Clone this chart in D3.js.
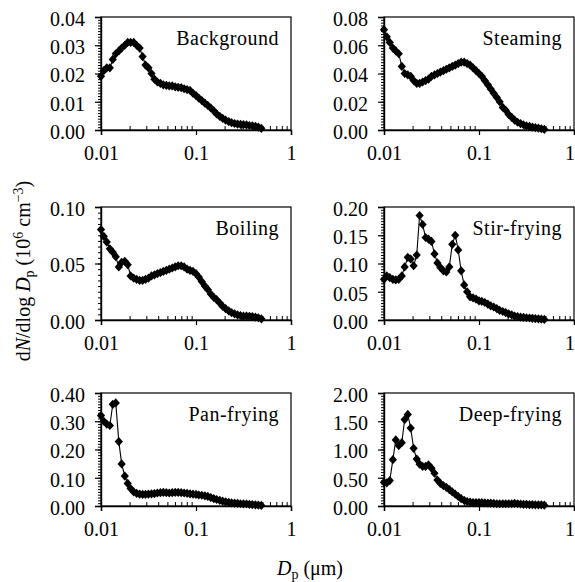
<!DOCTYPE html>
<html>
<head>
<meta charset="utf-8">
<script src="https://cdn.jsdelivr.net/npm/d3@7"></script>
<style>
  html, body { margin: 0; padding: 0; background: #fff; }
  svg { display: block; }
  text { font-family: "Liberation Serif", "Times New Roman", serif; fill: #000; }
</style>
</head>
<body>
<svg id="chart" width="575" height="582"></svg>
<script>
// ---- data ----
const diameters = [0.0100, 0.0107, 0.0115, 0.0124, 0.0133, 0.0143, 0.0154, 0.0165, 0.0178, 0.0191,
  0.0205, 0.0221, 0.0237, 0.0255, 0.0274, 0.0294, 0.0316, 0.0340, 0.0365, 0.0392,
  0.0422, 0.0453, 0.0487, 0.0523, 0.0562, 0.0604, 0.0649, 0.0698, 0.0750, 0.0806,
  0.0866, 0.0931, 0.100, 0.107, 0.115, 0.124, 0.133, 0.143, 0.154, 0.165,
  0.178, 0.191, 0.205, 0.221, 0.237, 0.255, 0.274, 0.294, 0.316, 0.340,
  0.365, 0.392, 0.422, 0.453, 0.487];

const background = [0.019, 0.021, 0.022, 0.022, 0.025, 0.027, 0.028, 0.029, 0.030, 0.031,
  0.031, 0.031, 0.030, 0.029, 0.026, 0.023, 0.022, 0.020, 0.018, 0.017,
  0.0165, 0.016, 0.0158, 0.0156, 0.0156, 0.0153, 0.0151, 0.015, 0.0146, 0.0143,
  0.014, 0.013, 0.0122, 0.0113, 0.0104, 0.0095, 0.0087, 0.0078, 0.0068, 0.0057,
  0.0048, 0.0041, 0.0035, 0.003, 0.0026, 0.0023, 0.0021, 0.002, 0.0019, 0.0018,
  0.0016, 0.0015, 0.0013, 0.001, 0.0006];

const steaming = [0.071, 0.066, 0.062, 0.058, 0.056, 0.054, 0.045, 0.040, 0.039, 0.038,
  0.035, 0.033, 0.033, 0.034, 0.035, 0.036, 0.038, 0.039, 0.040, 0.041,
  0.042, 0.043, 0.044, 0.045, 0.046, 0.047, 0.048, 0.048, 0.047, 0.046,
  0.044, 0.042, 0.040, 0.038, 0.035, 0.032, 0.029, 0.026, 0.023, 0.020,
  0.016, 0.014, 0.011, 0.009, 0.007, 0.0055, 0.0045, 0.0037, 0.003, 0.0025,
  0.002, 0.0017, 0.0013, 0.0009, 0.0005];

const boiling = [0.080, 0.074, 0.069, 0.063, 0.060, 0.056, 0.047, 0.051, 0.052, 0.049,
  0.039, 0.037, 0.036, 0.035, 0.035, 0.036, 0.037, 0.039, 0.040, 0.041,
  0.042, 0.043, 0.044, 0.045, 0.046, 0.047, 0.048, 0.048, 0.047, 0.045,
  0.044, 0.043, 0.041, 0.038, 0.034, 0.030, 0.027, 0.023, 0.020, 0.018,
  0.015, 0.012, 0.010, 0.008, 0.0065, 0.0055, 0.0045, 0.004, 0.0035, 0.0035,
  0.0033, 0.003, 0.0025, 0.002, 0.001];

const stirFrying = [0.072, 0.078, 0.075, 0.072, 0.071, 0.072, 0.078, 0.094, 0.111, 0.108,
  0.096, 0.115, 0.185, 0.169, 0.146, 0.143, 0.139, 0.117, 0.101, 0.093,
  0.087, 0.085, 0.094, 0.134, 0.150, 0.124, 0.087, 0.062, 0.050, 0.041,
  0.039, 0.037, 0.034, 0.033, 0.031, 0.028, 0.025, 0.023, 0.020, 0.017,
  0.015, 0.013, 0.011, 0.009, 0.007, 0.006, 0.005, 0.0045, 0.004, 0.0035,
  0.003, 0.0025, 0.002, 0.0015, 0.001];

const panFrying = [0.32, 0.30, 0.29, 0.285, 0.36, 0.365, 0.228, 0.149, 0.106, 0.080,
  0.062, 0.050, 0.045, 0.042, 0.041, 0.041, 0.042, 0.043, 0.044, 0.046,
  0.047, 0.048, 0.047, 0.046, 0.047, 0.048, 0.048, 0.047, 0.046, 0.045,
  0.043, 0.042, 0.041, 0.039, 0.038, 0.036, 0.034, 0.030, 0.026, 0.023,
  0.020, 0.017, 0.015, 0.013, 0.011, 0.010, 0.009, 0.008, 0.0075, 0.007,
  0.006, 0.005, 0.004, 0.003, 0.002];

const deepFrying = [0.42, 0.41, 0.45, 0.82, 1.17, 1.07, 1.12, 1.53, 1.62, 1.38,
  1.02, 0.83, 0.74, 0.70, 0.70, 0.73, 0.67, 0.58, 0.46, 0.40,
  0.36, 0.33, 0.29, 0.25, 0.21, 0.17, 0.13, 0.10, 0.08, 0.07,
  0.06, 0.06, 0.06, 0.06, 0.055, 0.05, 0.05, 0.045, 0.04, 0.04,
  0.04, 0.04, 0.04, 0.04, 0.045, 0.04, 0.035, 0.03, 0.03, 0.025,
  0.025, 0.02, 0.02, 0.02, 0.015];

const panelNames = ["Background", "Steaming", "Boiling", "Stir-frying", "Pan-frying", "Deep-frying"];
const panelSeries = [background, steaming, boiling, stirFrying, panFrying, deepFrying];
const yMax = [0.04, 0.08, 0.10, 0.20, 0.40, 2.00];
const yMajorStep = [0.01, 0.02, 0.05, 0.05, 0.10, 0.50];
const yMinorStep = [0.001, 0.002, 0.005, 0.005, 0.01, 0.05];
const xMajorTicks = [0.01, 0.1, 1];
const xMajorLabels = ["0.01", "0.1", "1"];
const xMinorTicks = [0.02, 0.03, 0.04, 0.05, 0.06, 0.07, 0.08, 0.09, 0.2, 0.3, 0.4, 0.5, 0.6, 0.7, 0.8, 0.9];

// ---- layout ----
const colLeft = [101, 384];
const rowTop = [17, 207, 393];
const pw = 190, ph = 113;
const W = 575;

const svg = d3.select("#chart");

const diamond = {
  draw(ctx) {
    ctx.moveTo(0, -4.6); ctx.lineTo(4.1, 0); ctx.lineTo(0, 4.6); ctx.lineTo(-4.1, 0); ctx.closePath();
  }
};

panelNames.forEach((name, k) => {
  const col = k % 2, row = Math.floor(k / 2);
  const ox = colLeft[col];
  const g = svg.append("g").attr("transform", `translate(${ox},${rowTop[row]})`);
  const x = d3.scaleLog().domain([0.01, 1]).range([0, pw]);
  const y = d3.scaleLinear().domain([0, yMax[k]]).range([ph, 0]);

  const nMaj = Math.round(yMax[k] / yMajorStep[k]);
  const majorVals = d3.range(nMaj + 1).map(i => i * yMajorStep[k]);
  const nMin = Math.round(yMax[k] / yMinorStep[k]);
  const minorVals = d3.range(nMin + 1).map(i => i * yMinorStep[k]);

  // frame
  g.append("rect").attr("x", 0).attr("y", 0).attr("width", pw).attr("height", ph)
    .attr("fill", "none").attr("stroke", "#000").attr("stroke-width", 1.2);

  // y minor ticks
  g.append("g").call(d3.axisLeft(y).tickValues(minorVals).tickSize(3).tickFormat(""))
    .call(a => a.select(".domain").remove())
    .selectAll("line").attr("stroke-width", 1);
  // y major ticks + labels
  const ya = g.append("g").call(d3.axisLeft(y).tickValues(majorVals).tickSize(6).tickPadding(10)
      .tickFormat(d3.format(".2f")));
  ya.select(".domain").attr("stroke-width", 1.4);
  ya.selectAll("line").attr("stroke-width", 1.2);
  ya.selectAll("text").attr("font-size", 20).attr("font-family", "Liberation Serif")
    .attr("dy", "0.42em");

  // x minor ticks (inward)
  g.append("g").attr("transform", `translate(0,${ph})`)
    .call(d3.axisTop(x).tickValues(xMinorTicks).tickSize(4).tickFormat(""))
    .call(a => a.select(".domain").remove())
    .selectAll("line").attr("stroke-width", 1);
  // x major ticks (outward) + labels
  const xa = g.append("g").attr("transform", `translate(0,${ph})`)
    .call(d3.axisBottom(x).tickValues(xMajorTicks).tickSize(5).tickPadding(11)
      .tickFormat((d, i) => xMajorLabels[i]));
  xa.select(".domain").attr("stroke-width", 1.4);
  xa.selectAll("line").attr("stroke-width", 1.2);
  xa.selectAll("text").attr("font-size", 20).attr("font-family", "Liberation Serif")
    .each(function (d) {
      // keep the last label inside the page edge
      const t = d3.select(this);
      if (ox + x(d) + 5 > W) t.attr("text-anchor", "end").attr("x", W - ox - x(d) - 0.5);
    });

  const pts = diameters.map((d, i) => [d, panelSeries[k][i]]);
  g.append("path").datum(pts)
    .attr("fill", "none").attr("stroke", "#000").attr("stroke-width", 1.1)
    .attr("d", d3.line().x(d => x(d[0])).y(d => y(d[1])));
  g.append("g").selectAll("path.m").data(pts).join("path")
    .attr("class", "m")
    .attr("transform", d => `translate(${x(d[0])},${y(d[1])})`)
    .attr("d", d3.symbol().type(diamond)())
    .attr("fill", "#000");

  g.append("text").attr("x", pw - 12).attr("y", 28)
    .attr("text-anchor", "end").attr("font-size", 20).attr("letter-spacing", 0.5)
    .text(name);
});

// axis titles
const yt = svg.append("text").attr("transform", "translate(30,271) rotate(-90)")
  .attr("text-anchor", "middle").attr("font-size", 20);
yt.append("tspan").text("d");
yt.append("tspan").attr("font-style", "italic").text("N");
yt.append("tspan").text("/dlog ");
yt.append("tspan").attr("font-style", "italic").text("D");
yt.append("tspan").attr("font-size", 14).attr("dy", 4).text("p");
yt.append("tspan").attr("dy", -4).text(" (10");
yt.append("tspan").attr("font-size", 14).attr("dy", -7).text("6");
yt.append("tspan").attr("dy", 7).text(" cm");
yt.append("tspan").attr("font-size", 14).attr("dy", -7).text("\u22123");
yt.append("tspan").attr("dy", 7).text(")");

const xt = svg.append("text").attr("x", 310).attr("y", 575)
  .attr("text-anchor", "middle").attr("font-size", 20);
xt.append("tspan").attr("font-style", "italic").text("D");
xt.append("tspan").attr("font-size", 14).attr("dy", 4).text("p");
xt.append("tspan").attr("dy", -4).text(" (\u03bcm)");
</script>
</body>
</html>
